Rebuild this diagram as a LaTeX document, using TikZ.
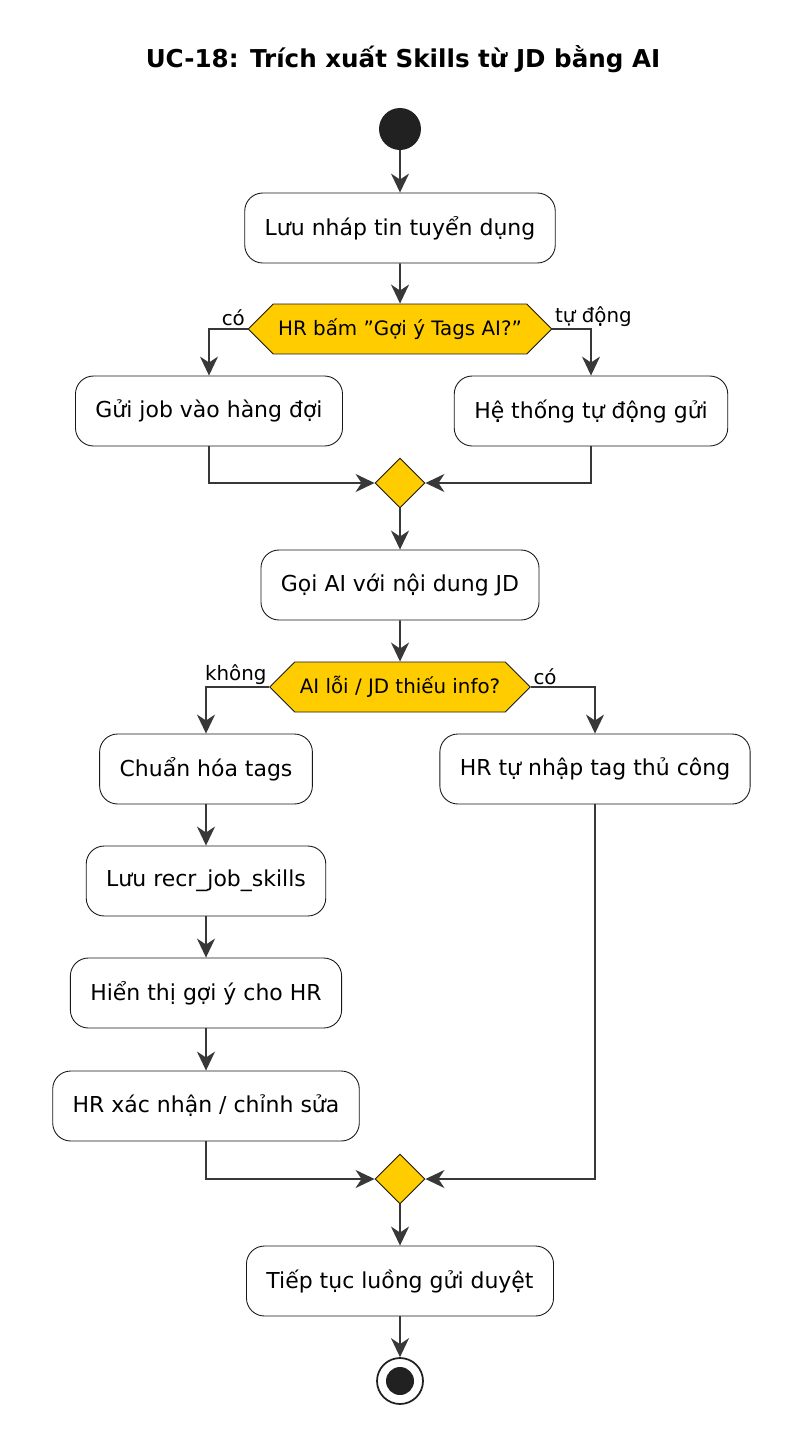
\documentclass[tikz,border=0pt]{standalone}
\usepackage{fontspec}
\setmainfont{DejaVu Sans}
\usetikzlibrary{arrows.meta,shapes.symbols,shapes.geometric}
\definecolor{uyellow}{HTML}{FFCC00}
\definecolor{uline}{HTML}{383838}
\definecolor{uborder}{HTML}{181818}

\tikzset{
  act/.style={draw=uborder, line width=0.5pt, rounded corners=0.36cm, fill=white,
    minimum height=1.4cm, inner xsep=0.4cm, font=\fontsize{12.5}{15}\selectfont},
  dec/.style={draw=uborder, line width=0.5pt, fill=uyellow, shape=signal,
    signal to=west and east, signal pointer angle=90, minimum height=1cm,
    inner xsep=0.1cm, font=\fontsize{11.3}{14}\selectfont},
  mrg/.style={draw=uborder, line width=0.5pt, fill=uyellow, diamond, minimum size=1cm, inner sep=0pt},
  flow/.style={draw=uline, line width=1.1pt, -{Stealth[length=0.38cm,width=0.36cm,inset=0.12cm]}},
  lbl/.style={font=\fontsize{11.3}{14}\selectfont, inner sep=1pt}
}

\begin{document}
\begin{tikzpicture}[x=0.02cm, y=-0.02cm]
    \useasboundingbox[fill=white] (0,0) rectangle (809,1443);

    % tieu de
    \node[font=\bfseries\fontsize{14}{17}\selectfont] (title) at (403,59) {UC-18: Trích xuất Skills từ JD bằng AI};

    % bat dau
    \node[circle, fill=black!87, minimum size=0.84cm, inner sep=0pt] (start) at (400,129) {};

    % cac buoc
    \node[act] (luunhap) at (400,228) {Lưu nháp tin tuyển dụng};
    \node[dec] (hrbam) at (400,329) {HR bấm "Gợi ý Tags AI?"};
    \node[act] (guijob) at (209,411) {Gửi job vào hàng đợi};
    \node[act] (tudong) at (591,411) {Hệ thống tự động gửi};
    \node[mrg] (merge1) at (400,483) {};
    \node[act] (goiai) at (400,585) {Gọi AI với nội dung JD};
    \node[dec] (ailoi) at (400,687) {AI lỗi / JD thiếu info?};
    \node[act] (chuanhoa) at (206,769) {Chuẩn hóa tags};
    \node[act] (luurecr) at (206,881) {Lưu recr\_job\_skills};
    \node[act] (hienthi) at (206,993) {Hiển thị gợi ý cho HR};
    \node[act] (xacnhan) at (206,1106) {HR xác nhận / chỉnh sửa};
    \node[act] (thucong) at (595,769) {HR tự nhập tag thủ công};
    \node[mrg] (merge2) at (400,1179) {};
    \node[act] (tieptuc) at (400,1281) {Tiếp tục luồng gửi duyệt};

    % ket thuc
    \node[circle, draw=black!87, line width=1pt, minimum size=0.92cm, inner sep=0pt] (stop) at (400,1381) {};
    \fill[black!87] (stop.center) circle (0.28cm);

    % luong
    \draw[flow] (start) -- (luunhap);
    \draw[flow] (luunhap) -- (hrbam);
    \draw[flow] (hrbam.west) -| node[lbl, pos=0, above left] {có} (guijob.north);
    \draw[flow] (hrbam.east) -| node[lbl, pos=0, above right] {tự động} (tudong.north);
    \draw[flow] (guijob.south) |- (merge1.west);
    \draw[flow] (tudong.south) |- (merge1.east);
    \draw[flow] (merge1) -- (goiai);
    \draw[flow] (goiai) -- (ailoi);
    \draw[flow] (ailoi.west) -| node[lbl, pos=0, above left] {không} (chuanhoa.north);
    \draw[flow] (ailoi.east) -| node[lbl, pos=0, above right] {có} (thucong.north);
    \draw[flow] (chuanhoa) -- (luurecr);
    \draw[flow] (luurecr) -- (hienthi);
    \draw[flow] (hienthi) -- (xacnhan);
    \draw[flow] (xacnhan.south) |- (merge2.west);
    \draw[flow] (thucong.south) |- (merge2.east);
    \draw[flow] (merge2) -- (tieptuc);
    \draw[flow] (tieptuc) -- (stop);

\end{tikzpicture}
\end{document}
